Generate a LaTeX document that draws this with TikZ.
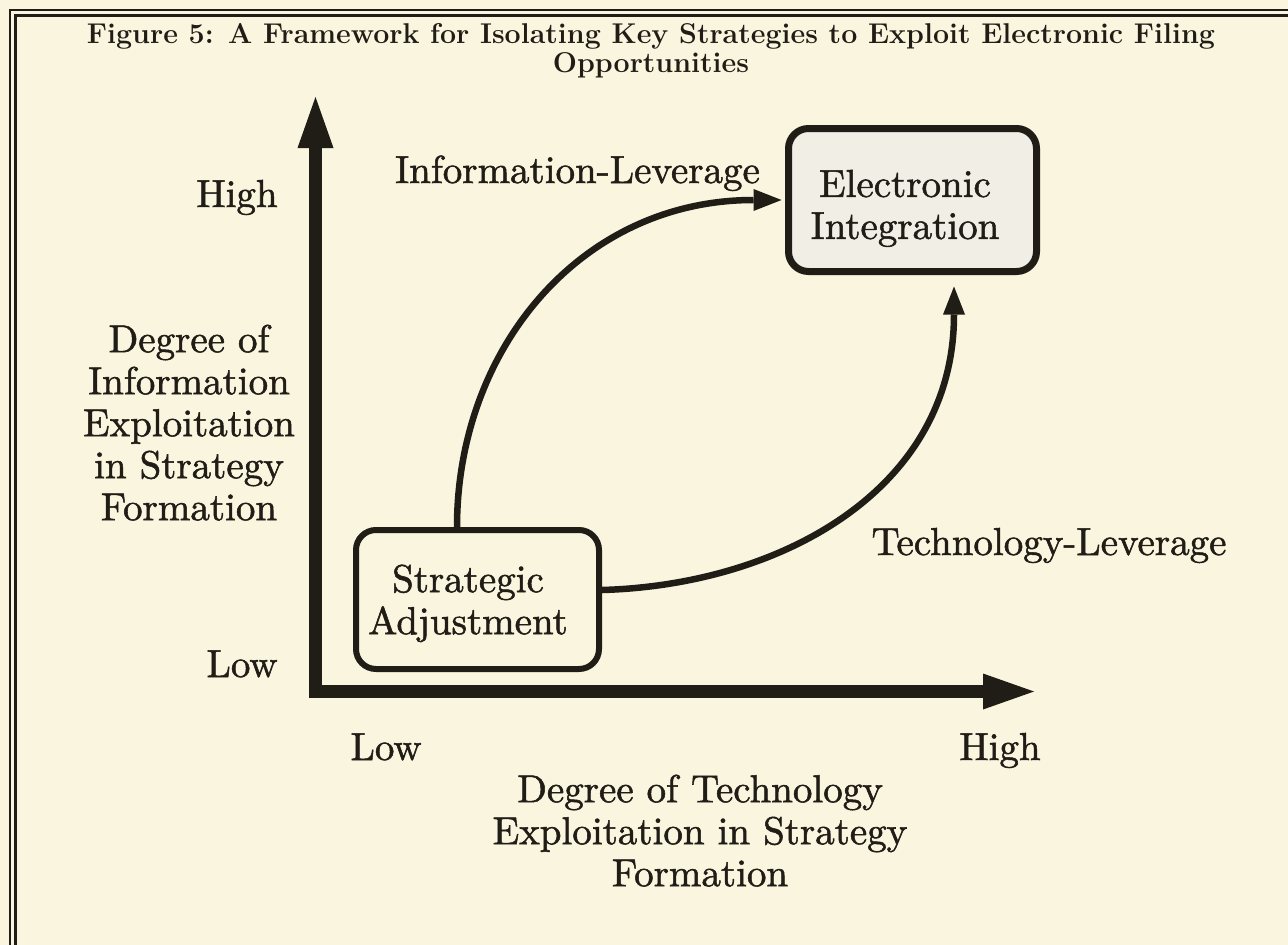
\documentclass[tikz,border=0pt]{standalone}
\usepackage{fontspec}
\newfontfamily\labfont{lmroman10-regular}[Extension=.otf, FakeBold=1.3]
\usetikzlibrary{arrows.meta}
\definecolor{paper}{RGB}{249,245,223}
\definecolor{ink}{RGB}{32,28,22}
\definecolor{boxfill}{RGB}{240,238,229}
\tikzset{
  axtip/.tip={Triangle[length=51pt,width=36pt,line width=0pt]},
  levtip/.tip={Triangle[length=28pt,width=22pt,line width=0pt]}
}
\begin{document}
\begin{tikzpicture}[x=1pt,y=-1pt,
  lbl/.style={text=ink, font=\labfont\fontsize{39pt}{42pt}\selectfont, inner sep=0pt},
  txt/.style={lbl, align=center},
  ttl/.style={text=ink, font=\fontsize{28.6pt}{29pt}\selectfont\bfseries, inner sep=0pt, align=center},
  stratbox/.style={draw=ink, rounded corners=20pt, inner sep=0pt},
  axis/.style={draw=ink, line width=12.5pt, line join=miter, axtip-axtip},
  lever/.style={draw=ink, line width=6.5pt, -levtip},
  frameline/.style={draw=ink, line width=2.2pt}
]
\fill[paper] (0,0) rectangle (1288,945);
\useasboundingbox (0,0) rectangle (1288,945);

% frame
\draw[frameline] (10,945) -- (10,10) -- (1288,10);
\draw[frameline] (15.5,945) -- (15.5,15.5) -- (1288,15.5);

% title
\node[ttl] (title) at (651,50.3) {Figure 5: A Framework for Isolating Key Strategies to Exploit Electronic Filing\\Opportunities};

% axes
\coordinate (origin) at (315.5,691.5);
\coordinate (ytip) at (315.5,97);
\coordinate (xtip) at (1034,691.5);
\draw[axis] (ytip) -- (origin) -- (xtip);

% boxes
\node[stratbox, fill=boxfill, line width=7pt, minimum width=248pt, minimum height=143pt] (EI) at (912.5,200) {};
\node[stratbox, fill=paper, line width=6pt, minimum width=243pt, minimum height=139pt] (SA) at (477.5,599.5) {};
\node[txt] (EItext) at (905,208.4) {Electronic\\Integration};
\node[txt] (SAtext) at (468,603.4) {Strategic\\Adjustment};

% leverage connectors
\draw[lever] ([xshift=-20.5pt]SA.north) .. controls (457,350) and (580,200) .. ([xshift=-3.5pt]EI.west);
\draw[lever] ([yshift=9.5pt]SA.east) .. controls (780,585) and (954,490) .. ([xshift=41.5pt,yshift=-11.5pt]EI.south);

% labels
\node[lbl, anchor=base] (yhigh) at (237,207) {High};
\node[lbl, anchor=base] (ylow) at (242,677) {Low};
\node[lbl, anchor=base] (xlow) at (386,760) {Low};
\node[lbl, anchor=base] (xhigh) at (1000,760) {High};
\node[lbl, anchor=base] (infolev) at (577.5,183) {Information-Leverage};
\node[lbl, anchor=base] (techlev) at (1049,555) {Technology-Leverage};
\node[txt] (ytitle) at (189,422.7) {Degree of\\Information\\Exploitation\\in Strategy\\Formation};
\node[txt] (xtitle) at (700,830.7) {Degree of Technology\\Exploitation in Strategy\\Formation};
\end{tikzpicture}
\end{document}
